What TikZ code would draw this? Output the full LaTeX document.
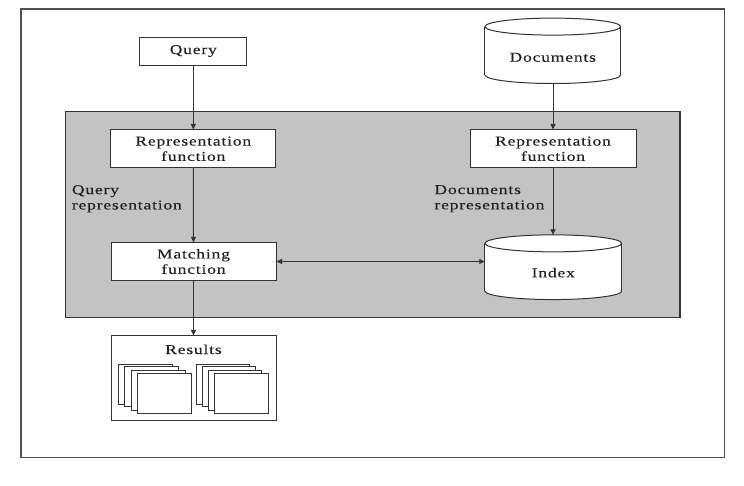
\documentclass[tikz,border=0pt]{standalone}
\usepackage{fontspec}
\setmainfont{Liberation Serif}[FakeStretch=1.3,LetterSpace=6,FakeBold=0.2]
\usetikzlibrary{arrows.meta,calc}
\definecolor{ln}{HTML}{333333}
\definecolor{frm}{HTML}{505050}
\definecolor{txtc}{HTML}{222222}
\definecolor{grayfill}{HTML}{C3C3C3}
\newcommand\fs{\fontsize{13.5}{15.3}\selectfont}
\newcommand\drawcyl[3]{%
  \fill[white] ($(#1.north west)+(0,#3)$) rectangle ($(#1.south east)+(0,-#3)$);
  \fill[white] ($(#1.south)+(0,-#3)$) ellipse (#2 and #3);
  \draw[cylline] ($(#1.north west)+(0,#3)$) -- ($(#1.south west)+(0,-#3)$);
  \draw[cylline] ($(#1.north east)+(0,#3)$) -- ($(#1.south east)+(0,-#3)$);
  \begin{scope}
    \clip ($(#1.south west)+(-2,-#3)$) rectangle ($(#1.south east)+(2,2)$);
    \draw[cylline] ($(#1.south)+(0,-#3)$) ellipse (#2 and #3);
  \end{scope}
  \draw[cylline,fill=white] ($(#1.north)+(0,#3)$) ellipse (#2 and #3);
}
\begin{document}
\begin{tikzpicture}[x=1pt,y=-1pt,
  box/.style={draw=ln, fill=white, line width=1pt, inner sep=0pt, align=center, font=\fs, text=txtc},
  cylbody/.style={draw=none, inner sep=0pt},
  cylline/.style={draw=ln, line width=1pt},
  txt/.style={inner sep=0pt, font=\fs, align=left, text=txtc},
  arr/.style={draw=ln, line width=1pt, -{Triangle[length=5.5pt,width=5pt]}},
  darr/.style={draw=ln, line width=1pt, {Triangle[length=5.5pt,width=5pt]}-{Triangle[length=5.5pt,width=5pt]}},
  sheet/.style={draw=ln, fill=white, line width=0.9pt}]
\useasboundingbox (0,0) rectangle (744,485);
\fill[white] (0,0) rectangle (744,485);
% outer frame
\draw[frm, line width=1.2pt] (21,9) rectangle (724.7,457.7);
% gray system box
\draw[draw=ln, fill=grayfill, line width=1.2pt] (65.7,111.5) rectangle (680,317.3);

% left column
\node[box, minimum width=106.7pt, minimum height=28pt] (query) at (193.3,51) {Query};
\node[box, minimum width=164.7pt, minimum height=37.7pt] (qrep) at (193.3,148.8) {Representation\\function};
\node[box, minimum width=165pt, minimum height=37.3pt] (match) at (193.5,261.5) {Matching\\function};
\node[box, minimum width=165pt, minimum height=84.7pt] (res) at (193.5,378.3) {};
\node[txt, anchor=base] (restxt) at (193.5,354) {Results};

% result sheets
\foreach \dx/\dy in {118.3/364.3, 124.3/366.7, 131/370, 137.3/373.3}
  \draw[sheet] (\dx,\dy) rectangle ++(54,40);
\foreach \dx/\dy in {196/364.3, 202/366.7, 208.3/370, 214.8/373.3}
  \draw[sheet] (\dx,\dy) rectangle ++(53.5,40);

% right column
\node[cylbody, minimum width=135.7pt, minimum height=65pt] (docs) at (552.8,50.8) {};
\drawcyl{docs}{67.85}{8.5}
\node[txt, anchor=base] (docstxt) at (552.8,61.7) {Documents};
\node[box, minimum width=166pt, minimum height=37.7pt] (drep) at (553,148.8) {Representation\\function};
\node[cylbody, minimum width=136.7pt, minimum height=64.3pt] (idx) at (553.3,267.2) {};
\drawcyl{idx}{68.35}{8.5}
\node[txt, anchor=base] (idxtxt) at (553.3,277.3) {Index};

% labels
\node[txt, anchor=north west] (qlab) at (71.7,185) {Query\\representation};
\node[txt, anchor=north west] (dlab) at (434.3,185) {Documents\\representation};

% connectors
\draw[arr] (query.south) -- (qrep.north);
\draw[arr] (qrep.south) -- (match.north);
\draw[arr] (match.south) -- (res.north);
\draw[arr] (docs.south -| drep.north) -- (drep.north);
\draw[arr] (drep.south) -- (drep.south |- idx.north);
\draw[darr] (match.east) -- (match.east -| idx.west);
\end{tikzpicture}
\end{document}
